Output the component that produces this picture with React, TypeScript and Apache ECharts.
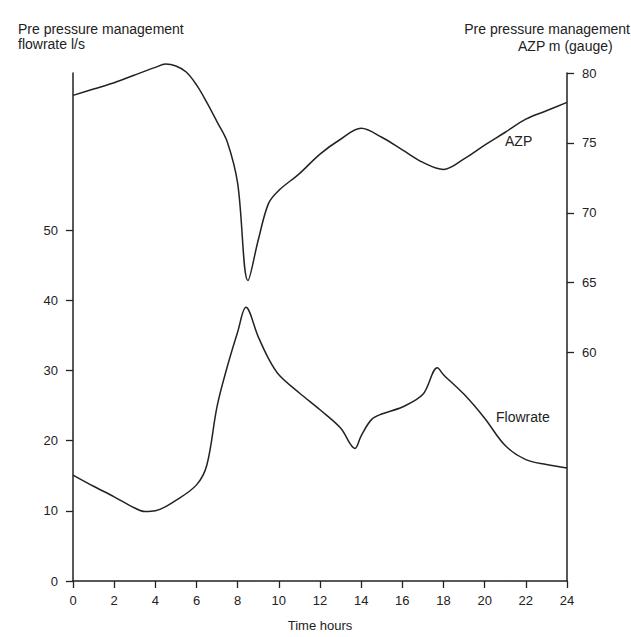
import React, { useEffect, useRef } from "react";
import * as echarts from "echarts";

const azpHours = [0, 1, 2, 3, 4, 4.5, 5, 5.5, 6, 6.5, 7, 7.5, 8, 8.5, 9, 9.5, 10, 11, 12, 13, 14, 15, 16, 17, 18, 19, 20, 21, 22, 23, 24];
const azpValues = [78.4, 78.85, 79.3, 79.86, 80.4, 80.64, 80.5, 80.07, 79.15, 77.9, 76.5, 75.05, 72.1, 65.15, 68.05, 70.67, 71.6, 72.8, 74.2, 75.26, 76.04, 75.4, 74.5, 73.6, 73.1, 73.85, 74.84, 75.76, 76.7, 77.3, 77.9];

const flowHours = [0, 1, 2, 3, 3.5, 4, 5, 6, 6.5, 7, 7.5, 8, 8.4, 9, 9.5, 10, 11, 12, 13, 13.7, 14, 14.5, 15, 16, 17, 17.7, 18, 19, 20, 21, 22, 23, 24];
const flowValues = [15.1, 13.5, 12.0, 10.4, 9.9, 10.0, 11.5, 13.7, 16.5, 24.9, 30.6, 35.5, 39.0, 34.8, 31.7, 29.4, 26.8, 24.4, 21.8, 18.9, 20.7, 23.0, 23.8, 24.8, 26.6, 30.4, 29.4, 26.6, 23.2, 19.3, 17.3, 16.6, 16.1];

const leftTicks = [0, 10, 20, 30, 40, 50];
const rightTicks = [60, 65, 70, 75, 80];

const FONT = "'Liberation Sans', Arial, sans-serif";
const INK = "#222";

export default function App() {
  const ref = useRef<HTMLDivElement>(null);
  useEffect(() => {
    if (!ref.current) return;
    const chart = echarts.init(ref.current, undefined, { renderer: "svg" });
    const axisCommon = {
      axisLine: { show: true, lineStyle: { color: INK, width: 1.5 } },
      axisTick: { show: true, length: 7, lineStyle: { color: INK, width: 1.3 } },
      axisLabel: { color: INK, fontSize: 13, fontFamily: FONT, margin: 15 },
      splitLine: { show: false },
    };
    chart.setOption({
      animation: false,
      backgroundColor: "#fff",
      grid: { left: 73, right: 64, top: 73, bottom: 50 },
      xAxis: {
        type: "value",
        min: 0,
        max: 24,
        interval: 2,
        name: "Time hours",
        nameLocation: "middle",
        nameGap: 38,
        nameTextStyle: { color: INK, fontSize: 13, fontFamily: FONT },
        ...axisCommon,
        axisLabel: { ...axisCommon.axisLabel, margin: 13 },
      },
      yAxis: [
        {
          type: "value",
          min: 0,
          max: 72.4,
          position: "left",
          ...axisCommon,
          axisTick: { ...axisCommon.axisTick, customValues: leftTicks },
          axisLabel: { ...axisCommon.axisLabel, customValues: leftTicks },
        },
        {
          type: "value",
          min: 43.65,
          max: 80,
          position: "right",
          ...axisCommon,
          axisTick: { ...axisCommon.axisTick, customValues: rightTicks },
          axisLabel: { ...axisCommon.axisLabel, customValues: rightTicks },
        },
      ],
      series: [
        {
          type: "line",
          name: "AZP",
          yAxisIndex: 1,
          data: azpHours.map((h, i) => [h, azpValues[i]]),
          showSymbol: false,
          smooth: 0.35,
          clip: false,
          lineStyle: { color: INK, width: 1.5 },
        },
        {
          type: "line",
          name: "Flowrate",
          yAxisIndex: 0,
          data: flowHours.map((h, i) => [h, flowValues[i]]),
          showSymbol: false,
          smooth: 0.35,
          clip: false,
          lineStyle: { color: INK, width: 1.5 },
        },
      ],
      graphic: [
        { type: "text", left: 18, top: 22, style: { text: "Pre pressure management", fontSize: 14, fontFamily: FONT, fill: INK } },
        { type: "text", left: 18, top: 37, style: { text: "flowrate l/s", fontSize: 14, fontFamily: FONT, fill: INK } },
        { type: "text", right: 1, top: 22, style: { text: "Pre pressure management", fontSize: 14, fontFamily: FONT, fill: INK } },
        { type: "text", left: 518, top: 39, style: { text: "AZP m (gauge)", fontSize: 14, fontFamily: FONT, fill: INK } },
        { type: "text", left: 505, top: 134, style: { text: "AZP", fontSize: 14, fontFamily: FONT, fill: INK } },
        { type: "text", left: 496, top: 410, style: { text: "Flowrate", fontSize: 14, fontFamily: FONT, fill: INK } },
      ],
    });
    return () => chart.dispose();
  }, []);
  return <div ref={ref} style={{ position: "fixed", left: 0, top: 0, width: 631, height: 637 }} />;
}
